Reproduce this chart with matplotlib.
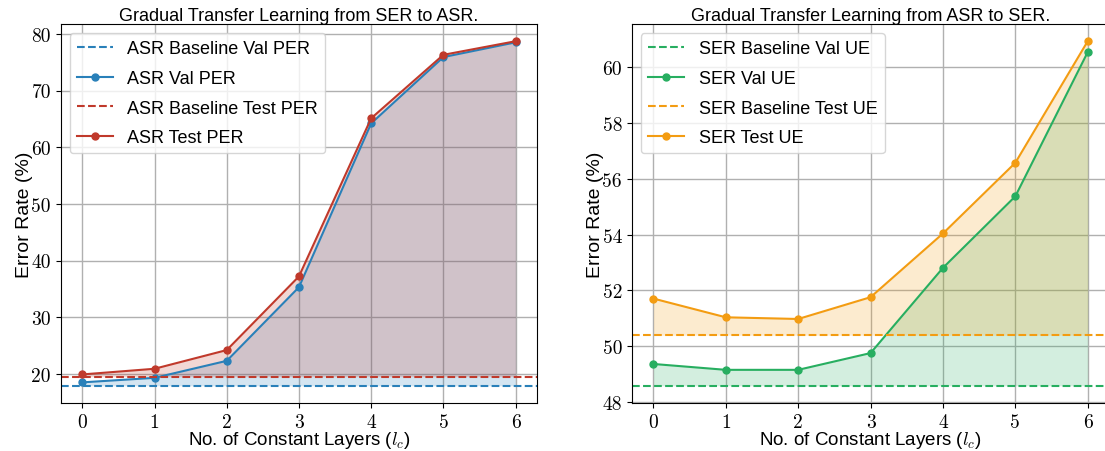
import numpy as np
import matplotlib
matplotlib.use("Agg")
import matplotlib.pyplot as plt

plt.rcParams["font.family"] = ["Liberation Sans", "DejaVu Sans"]
plt.rcParams["mathtext.fontset"] = "cm"

# ---------------------------------------------------------------- data
layers = [0, 1, 2, 3, 4, 5, 6]

asr_val = [18.5, 19.3, 22.3, 35.3, 64.2, 75.9, 78.5]
asr_test = [19.9, 20.9, 24.2, 37.2, 65.1, 76.3, 78.7]
asr_base_val = 17.9
asr_base_test = 19.5

ser_val = [49.37, 49.16, 49.16, 49.76, 52.81, 55.37, 60.53]
ser_test = [51.71, 51.04, 50.98, 51.76, 54.04, 56.57, 60.92]
ser_base_val = 48.59
ser_base_test = 50.40

BLUE, RED = "#2980b9", "#c0392b"
GREEN, ORANGE = "#27ae60", "#f39c12"


def panel(ax, val, test, base_val, base_test, names, c_val, c_test, title):
    ax.axhline(base_val, color=c_val, ls="--", lw=1.5, label=names[0])
    ax.plot(layers, val, color=c_val, marker="o", ms=5, lw=1.5, label=names[1])
    ax.fill_between(layers, val, base_val, color=c_val, alpha=0.2, lw=0)
    ax.axhline(base_test, color=c_test, ls="--", lw=1.5, label=names[2])
    ax.plot(layers, test, color=c_test, marker="o", ms=5, lw=1.5, label=names[3])
    ax.fill_between(layers, test, base_test, color=c_test, alpha=0.2, lw=0)
    ax.set_title(title, fontsize=13, pad=3)
    ax.set_xlabel(r"No. of Constant Layers ($l_c$)", fontsize=13.5, labelpad=-1)
    ax.set_ylabel("Error Rate (%)", fontsize=14, labelpad=-1)
    ax.set_xticks(layers)
    ax.tick_params(labelsize=14, labelfontfamily="cmr10")
    ax.grid(True, color="#b0b0b0", lw=1.0)
    ax.set_axisbelow(True)
    ax.legend(loc="upper left", fontsize=13, labelspacing=0.7)


fig = plt.figure(figsize=(11.05, 4.52), dpi=100)
ax1 = fig.add_axes([0.0549, 0.1062, 0.4313, 0.8385])
ax2 = fig.add_axes([0.5717, 0.1062, 0.4323, 0.8385])

panel(ax1, asr_val, asr_test, asr_base_val, asr_base_test,
      ["ASR Baseline Val PER", "ASR Val PER", "ASR Baseline Test PER", "ASR Test PER"],
      BLUE, RED, "Gradual Transfer Learning from SER to ASR.")
panel(ax2, ser_val, ser_test, ser_base_val, ser_base_test,
      ["SER Baseline Val UE", "SER Val UE", "SER Baseline Test UE", "SER Test UE"],
      GREEN, ORANGE, "Gradual Transfer Learning from ASR to SER.")

fig.savefig("out.png", dpi=100)
